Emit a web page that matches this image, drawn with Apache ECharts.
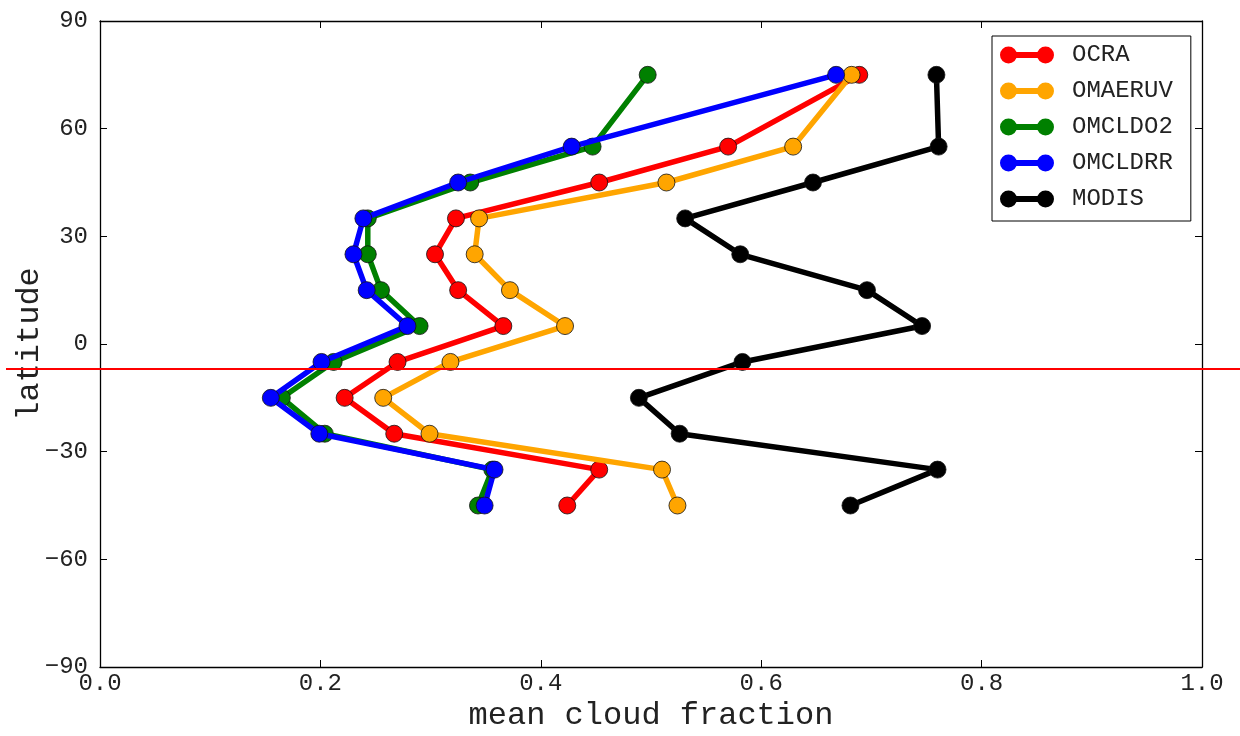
<!DOCTYPE html>
<html>
<head>
<meta charset="utf-8">
<script src="https://cdn.jsdelivr.net/npm/echarts@6/dist/echarts.min.js"></script>
<style>
html,body{margin:0;padding:0;background:#fff;}
#chart{width:1240px;height:736px;}
</style>
</head>
<body>
<div id="chart"></div>
<script>
const latitudes = [75, 55, 45, 35, 25, 15, 5, -5, -15, -25, -35, -45];
const seriesNames = ['OCRA', 'OMAERUV', 'OMCLDO2', 'OMCLDRR', 'MODIS'];
const ocra    = [0.689, 0.570, 0.453, 0.323, 0.304, 0.325, 0.366, 0.270, 0.222, 0.267, 0.453, 0.424];
const omaeruv = [0.682, 0.629, 0.514, 0.344, 0.340, 0.372, 0.422, 0.318, 0.257, 0.299, 0.510, 0.524];
const omcldo2 = [0.497, 0.447, 0.336, 0.243, 0.243, 0.255, 0.290, 0.212, 0.165, 0.204, 0.356, 0.343];
const omcldrr = [0.668, 0.428, 0.325, 0.239, 0.230, 0.242, 0.279, 0.201, 0.155, 0.199, 0.358, 0.349];
const modis   = [0.759, 0.761, 0.647, 0.531, 0.581, 0.696, 0.746, 0.583, 0.489, 0.526, 0.760, 0.681];
const refLatitude = -7;
const xTickLabels = ['0.0', '0.2', '0.4', '0.6', '0.8', '1.0'];
const yTickLabels = ['\u221290', '\u221260', '\u221230', '0', '30', '60', '90'];

const seriesValues = [ocra, omaeruv, omcldo2, omcldrr, modis];
const colors = ['#ff0000', '#ffa500', '#008000', '#0000ff', '#000000'];
const FONT = 'Liberation Mono';

const legendIcon = 'path://M0,8.5A8.5,8.5,0,1,1,17,8.5A8.5,8.5,0,1,1,0,8.5Z M37,8.5A8.5,8.5,0,1,1,54,8.5A8.5,8.5,0,1,1,37,8.5Z M16,5.5L38,5.5L38,11.5L16,11.5Z';

const chart = echarts.init(document.getElementById('chart'), null, {renderer: 'canvas'});

const series = seriesNames.map((name, i) => ({
  name: name,
  type: 'line',
  xAxisIndex: 0,
  yAxisIndex: 0,
  data: latitudes.map((lat, j) => [seriesValues[i][j], lat]),
  symbol: 'circle',
  symbolSize: 17,
  showSymbol: true,
  color: colors[i],
  lineStyle: {color: colors[i], width: 5.5},
  itemStyle: {color: colors[i], borderColor: '#111', borderWidth: 0.8},
  z: 2 + i,
  animation: false,
  emphasis: {disabled: true}
}));

series.push({
  name: 'ref',
  type: 'line',
  xAxisIndex: 2,
  yAxisIndex: 2,
  data: [[0, refLatitude], [1, refLatitude]],
  symbol: 'none',
  lineStyle: {color: '#ff0000', width: 2},
  z: 20,
  animation: false,
  silent: true
});

const yFmt = v => yTickLabels[Math.round((v + 90) / 30)];
const xFmt = v => xTickLabels[Math.round(v / 0.2)];

const baseAxisLine = {show: true, onZero: false, lineStyle: {color: '#000', width: 1.3}};
const tickStyle = {show: true, inside: true, length: 7, lineStyle: {color: '#000', width: 1}};

const option = {
  backgroundColor: '#ffffff',
  animation: false,
  grid: [
    {left: 100, right: 38, top: 21, bottom: 69, containLabel: false, outerBoundsMode: 'none'},
    {left: 6, right: 0, top: 21, bottom: 69, containLabel: false, outerBoundsMode: 'none'}
  ],
  legend: {
    data: seriesNames.map(n => ({name: n, icon: legendIcon})),
    orient: 'vertical',
    left: 992,
    top: 36,
    itemWidth: 54,
    itemHeight: 17,
    itemGap: 12,
    padding: [7, 18, 10, 8],
    borderColor: '#000',
    borderWidth: 1,
    backgroundColor: '#fff',
    itemStyle: {borderWidth: 0},
    textStyle: {fontFamily: FONT, fontSize: 24, color: '#222', padding: [0, 0, 0, 13]},
    selectedMode: false,
    z: 10
  },
  xAxis: [
    {
      type: 'value', gridIndex: 0, min: 0, max: 1, interval: 0.2,
      position: 'bottom',
      name: 'mean cloud fraction', nameLocation: 'middle', nameGap: 33, nameMoveOverlap: false,
      nameTextStyle: {fontFamily: FONT, fontSize: 32, color: '#222'},
      axisLine: baseAxisLine,
      axisTick: tickStyle,
      axisLabel: {formatter: xFmt, fontFamily: FONT, fontSize: 24, color: '#222', margin: 5},
      splitLine: {show: false}
    },
    {
      type: 'value', gridIndex: 0, min: 0, max: 1, interval: 0.2,
      position: 'top',
      axisLine: baseAxisLine,
      axisTick: tickStyle,
      axisLabel: {show: false},
      splitLine: {show: false}
    },
    {
      type: 'value', gridIndex: 1, min: 0, max: 1, show: false
    }
  ],
  yAxis: [
    {
      type: 'value', gridIndex: 0, min: -90, max: 90, interval: 30,
      position: 'left',
      name: 'latitude', nameLocation: 'middle', nameGap: 54, nameRotate: 90, nameMoveOverlap: false,
      nameTextStyle: {fontFamily: FONT, fontSize: 32, color: '#222'},
      axisLine: baseAxisLine,
      axisTick: tickStyle,
      axisLabel: {formatter: yFmt, fontFamily: FONT, fontSize: 24, color: '#222', margin: 12},
      splitLine: {show: false}
    },
    {
      type: 'value', gridIndex: 0, min: -90, max: 90, interval: 30,
      position: 'right',
      axisLine: baseAxisLine,
      axisTick: tickStyle,
      axisLabel: {show: false},
      splitLine: {show: false}
    },
    {
      type: 'value', gridIndex: 1, min: -90, max: 90, show: false
    }
  ],
  series: series
};

chart.setOption(option);
</script>
</body>
</html>
